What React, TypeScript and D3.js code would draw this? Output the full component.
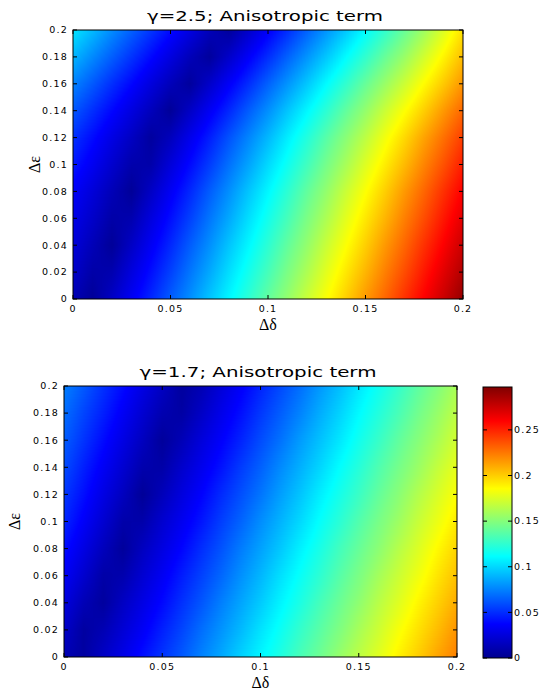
import React, { useMemo } from "react";
import * as d3 from "d3";

// grid positions (Δδ across, Δε down the rows)
const deltaSteps = [0, 0.01, 0.02, 0.03, 0.04, 0.05, 0.06, 0.07, 0.08, 0.09, 0.1, 0.11, 0.12, 0.13, 0.14, 0.15, 0.16, 0.17, 0.18, 0.19, 0.2];
const epsSteps = [0, 0.02, 0.04, 0.06, 0.08, 0.1, 0.12, 0.14, 0.16, 0.18, 0.2];

const xTicks = [0, 0.05, 0.1, 0.15, 0.2];
const yTicks = [0, 0.02, 0.04, 0.06, 0.08, 0.1, 0.12, 0.14, 0.16, 0.18, 0.2];
const barTicks = [0, 0.05, 0.1, 0.15, 0.2, 0.25];

// anisotropic term, gamma = 2.5 (one row per Δε value)
const termGamma25 = [
  [0.016, 0.004, 0.024, 0.045, 0.065, 0.086, 0.106, 0.127, 0.147, 0.167, 0.188, 0.208, 0.229, 0.249, 0.269, 0.290, 0.310, 0.331, 0.351, 0.371, 0.392],
  [0.026, 0.011, 0.014, 0.035, 0.055, 0.075, 0.096, 0.116, 0.137, 0.157, 0.177, 0.198, 0.218, 0.239, 0.259, 0.279, 0.300, 0.320, 0.341, 0.361, 0.381],
  [0.033, 0.018, 0.004, 0.024, 0.045, 0.065, 0.086, 0.106, 0.127, 0.147, 0.167, 0.188, 0.208, 0.229, 0.249, 0.269, 0.290, 0.310, 0.331, 0.351, 0.371],
  [0.040, 0.026, 0.011, 0.014, 0.035, 0.055, 0.075, 0.096, 0.116, 0.137, 0.157, 0.177, 0.198, 0.218, 0.239, 0.259, 0.279, 0.300, 0.320, 0.341, 0.361],
  [0.047, 0.033, 0.018, 0.004, 0.024, 0.045, 0.065, 0.086, 0.106, 0.127, 0.147, 0.167, 0.188, 0.208, 0.229, 0.249, 0.269, 0.290, 0.310, 0.331, 0.351],
  [0.059, 0.044, 0.028, 0.013, 0.012, 0.033, 0.053, 0.073, 0.094, 0.114, 0.135, 0.155, 0.175, 0.196, 0.216, 0.237, 0.257, 0.277, 0.298, 0.318, 0.339],
  [0.069, 0.054, 0.038, 0.023, 0.007, 0.020, 0.041, 0.061, 0.082, 0.102, 0.122, 0.143, 0.163, 0.184, 0.204, 0.224, 0.245, 0.265, 0.286, 0.306, 0.326],
  [0.084, 0.068, 0.052, 0.036, 0.020, 0.004, 0.024, 0.045, 0.065, 0.086, 0.106, 0.127, 0.147, 0.167, 0.188, 0.208, 0.229, 0.249, 0.269, 0.290, 0.310],
  [0.101, 0.085, 0.068, 0.052, 0.035, 0.019, 0.006, 0.026, 0.047, 0.067, 0.088, 0.108, 0.128, 0.149, 0.169, 0.190, 0.210, 0.230, 0.251, 0.271, 0.292],
  [0.121, 0.104, 0.087, 0.070, 0.053, 0.036, 0.019, 0.006, 0.026, 0.047, 0.067, 0.088, 0.108, 0.128, 0.149, 0.169, 0.190, 0.210, 0.232, 0.254, 0.276],
  [0.140, 0.123, 0.105, 0.088, 0.071, 0.054, 0.037, 0.019, 0.006, 0.026, 0.047, 0.067, 0.088, 0.108, 0.128, 0.149, 0.169, 0.190, 0.212, 0.236, 0.262],
];

// anisotropic term, gamma = 1.7
const termGamma17 = [
  [0.012, 0.006, 0.018, 0.029, 0.041, 0.052, 0.063, 0.075, 0.086, 0.098, 0.109, 0.120, 0.132, 0.143, 0.155, 0.166, 0.177, 0.189, 0.200, 0.212, 0.223],
  [0.019, 0.006, 0.012, 0.023, 0.034, 0.046, 0.057, 0.069, 0.080, 0.091, 0.103, 0.114, 0.126, 0.137, 0.148, 0.160, 0.171, 0.183, 0.194, 0.205, 0.217],
  [0.026, 0.013, 0.005, 0.017, 0.028, 0.039, 0.051, 0.062, 0.074, 0.085, 0.096, 0.108, 0.119, 0.131, 0.142, 0.153, 0.165, 0.176, 0.188, 0.199, 0.210],
  [0.034, 0.021, 0.008, 0.010, 0.022, 0.033, 0.045, 0.056, 0.067, 0.079, 0.090, 0.102, 0.113, 0.124, 0.136, 0.147, 0.159, 0.170, 0.181, 0.193, 0.204],
  [0.041, 0.028, 0.015, 0.004, 0.016, 0.027, 0.038, 0.050, 0.061, 0.073, 0.084, 0.095, 0.107, 0.118, 0.130, 0.141, 0.152, 0.164, 0.175, 0.187, 0.198],
  [0.048, 0.035, 0.022, 0.009, 0.009, 0.021, 0.032, 0.043, 0.055, 0.066, 0.078, 0.089, 0.100, 0.112, 0.123, 0.135, 0.146, 0.157, 0.169, 0.180, 0.192],
  [0.053, 0.041, 0.028, 0.016, 0.003, 0.014, 0.026, 0.037, 0.049, 0.060, 0.071, 0.083, 0.094, 0.106, 0.117, 0.128, 0.140, 0.151, 0.163, 0.174, 0.185],
  [0.059, 0.046, 0.034, 0.022, 0.010, 0.008, 0.020, 0.031, 0.042, 0.054, 0.065, 0.077, 0.088, 0.099, 0.111, 0.122, 0.134, 0.145, 0.156, 0.168, 0.179],
  [0.064, 0.052, 0.040, 0.028, 0.016, 0.004, 0.013, 0.025, 0.036, 0.047, 0.059, 0.070, 0.082, 0.093, 0.104, 0.116, 0.127, 0.139, 0.150, 0.161, 0.173],
  [0.069, 0.057, 0.046, 0.034, 0.022, 0.011, 0.007, 0.018, 0.030, 0.041, 0.053, 0.064, 0.075, 0.087, 0.098, 0.110, 0.121, 0.132, 0.144, 0.155, 0.167],
  [0.074, 0.063, 0.051, 0.040, 0.028, 0.017, 0.005, 0.012, 0.024, 0.035, 0.047, 0.058, 0.069, 0.081, 0.092, 0.104, 0.115, 0.126, 0.138, 0.149, 0.161],
];

const jetStops = [0, 0.125, 0.375, 0.625, 0.875, 1];
const jetColors = ["#00008f", "#0000ff", "#00ffff", "#ffff00", "#ff0000", "#800000"];

const tickFont = "'DejaVu Sans', sans-serif";
const greekFont = "'Liberation Serif', serif";

function jet(vmax: number) {
  return d3
    .scaleLinear<string>()
    .domain(jetStops.map(t => t * vmax))
    .range(jetColors)
    .interpolate(d3.interpolateRgb)
    .clamp(true);
}

function fmt(v: number) {
  return String(+v.toFixed(2));
}

// bilinear lookup in the grid (shading interp)
function sample(grid: number[][], d: number, e: number) {
  const i = Math.min(Math.max(d3.bisectRight(deltaSteps, d) - 1, 0), deltaSteps.length - 2);
  const j = Math.min(Math.max(d3.bisectRight(epsSteps, e) - 1, 0), epsSteps.length - 2);
  const tx = Math.min(Math.max((d - deltaSteps[i]) / (deltaSteps[i + 1] - deltaSteps[i]), 0), 1);
  const ty = Math.min(Math.max((e - epsSteps[j]) / (epsSteps[j + 1] - epsSteps[j]), 0), 1);
  const a = grid[j][i] * (1 - tx) + grid[j][i + 1] * tx;
  const b = grid[j + 1][i] * (1 - tx) + grid[j + 1][i + 1] * tx;
  return a * (1 - ty) + b * ty;
}

function paint(grid: number[][], vmax: number, x: d3.ScaleLinear<number, number>, y: d3.ScaleLinear<number, number>) {
  const [x0, x1] = x.range();
  const [y1, y0] = y.range();
  const w = Math.round(x1 - x0);
  const h = Math.round(y1 - y0);
  const color = jet(vmax);
  const lut = d3.range(512).map(k => d3.rgb(color((k / 511) * vmax)));

  const canvas = document.createElement("canvas");
  canvas.width = w;
  canvas.height = h;
  const ctx = canvas.getContext("2d")!;
  const img = ctx.createImageData(w, h);
  for (let py = 0; py < h; py++) {
    const e = y.invert(y0 + py + 0.5);
    for (let px = 0; px < w; px++) {
      const v = sample(grid, x.invert(x0 + px + 0.5), e);
      const k = Math.max(0, Math.min(511, Math.round((v / vmax) * 511)));
      const c = lut[k];
      const o = (py * w + px) * 4;
      img.data[o] = c.r;
      img.data[o + 1] = c.g;
      img.data[o + 2] = c.b;
      img.data[o + 3] = 255;
    }
  }
  ctx.putImageData(img, 0, 0);
  return canvas.toDataURL();
}

type PanelProps = {
  title: string;
  grid: number[][];
  vmax: number;
  left: number;
  right: number;
  top: number;
  bottom: number;
  titleX: number;
  titleY: number;
  titleW: number;
  yLabelX: number;
};

const Panel = (p: PanelProps) => {
  const x = d3.scaleLinear().domain([0, 0.2]).range([p.left, p.right]);
  const y = d3.scaleLinear().domain([0, 0.2]).range([p.bottom, p.top]);
  const href = useMemo(() => paint(p.grid, p.vmax, x, y), [p.grid, p.vmax]);
  const tl = 4;

  return (
    <g>
      <image href={href} x={p.left} y={p.top} width={p.right - p.left} height={p.bottom - p.top} preserveAspectRatio="none" />
      <rect x={p.left} y={p.top} width={p.right - p.left} height={p.bottom - p.top} fill="none" stroke="#000" strokeWidth={1} />

      {xTicks.map(t => (
        <g key={"x" + t}>
          <line x1={x(t)} x2={x(t)} y1={p.bottom} y2={p.bottom - tl} stroke="#000" />
          <line x1={x(t)} x2={x(t)} y1={p.top} y2={p.top + tl} stroke="#000" />
          <text x={x(t)} y={p.bottom + 13} textAnchor="middle" fontFamily={tickFont} fontSize={9.5} letterSpacing={1.2}>
            {fmt(t)}
          </text>
        </g>
      ))}

      {yTicks.map(t => (
        <g key={"y" + t}>
          <line x1={p.left} x2={p.left + tl} y1={y(t)} y2={y(t)} stroke="#000" />
          <line x1={p.right} x2={p.right - tl} y1={y(t)} y2={y(t)} stroke="#000" />
          <text x={p.left - 5} y={y(t)} dy="0.35em" textAnchor="end" fontFamily={tickFont} fontSize={9.5} letterSpacing={1.2}>
            {fmt(t)}
          </text>
        </g>
      ))}

      <text x={p.titleX} y={p.titleY} textAnchor="middle" fontFamily={tickFont} fontSize={14.5} textLength={p.titleW} lengthAdjust="spacingAndGlyphs">
        {p.title}
      </text>
      <text x={(p.left + p.right) / 2} y={p.bottom + 31} textAnchor="middle" fontFamily={greekFont} fontSize={16}>
        Δδ
      </text>
      <text
        transform={`translate(${p.yLabelX},${(p.top + p.bottom) / 2}) rotate(-90)`}
        textAnchor="middle"
        fontFamily={greekFont}
        fontSize={16}
      >
        Δε
      </text>
    </g>
  );
};

const Colorbar = ({ vmax, left, right, top, bottom }: { vmax: number; left: number; right: number; top: number; bottom: number }) => {
  const y = d3.scaleLinear().domain([0, vmax]).range([bottom, top]);
  const tl = 4;
  return (
    <g>
      <defs>
        <linearGradient id="jetbar" x1="0" y1="1" x2="0" y2="0">
          {jetStops.map((s, i) => (
            <stop key={s} offset={s} stopColor={jetColors[i]} />
          ))}
        </linearGradient>
      </defs>
      <rect x={left} y={top} width={right - left} height={bottom - top} fill="url(#jetbar)" stroke="#000" strokeWidth={1} />
      {barTicks.map(t => (
        <g key={t}>
          <line x1={left} x2={left + tl} y1={y(t)} y2={y(t)} stroke="#000" />
          <line x1={right} x2={right - tl} y1={y(t)} y2={y(t)} stroke="#000" />
          <text x={right + 2} y={y(t)} dy="0.35em" fontFamily={tickFont} fontSize={9.5} letterSpacing={1.2}>
            {fmt(t)}
          </text>
        </g>
      ))}
    </g>
  );
};

export default function App() {
  return (
    <svg width={539} height={693} style={{ position: "absolute", left: 0, top: 0, background: "#fff" }}>
      <Panel
        title="γ=2.5; Anisotropic term"
        grid={termGamma25}
        vmax={0.4}
        left={73}
        right={463}
        top={30}
        bottom={299}
        titleX={265}
        titleY={21}
        titleW={236}
        yLabelX={40}
      />
      <Panel
        title="γ=1.7; Anisotropic term"
        grid={termGamma17}
        vmax={0.297}
        left={64}
        right={457}
        top={386}
        bottom={657}
        titleX={258}
        titleY={377}
        titleW={237}
        yLabelX={20}
      />
      <Colorbar vmax={0.297} left={483} right={512} top={387} bottom={658} />
    </svg>
  );
}
